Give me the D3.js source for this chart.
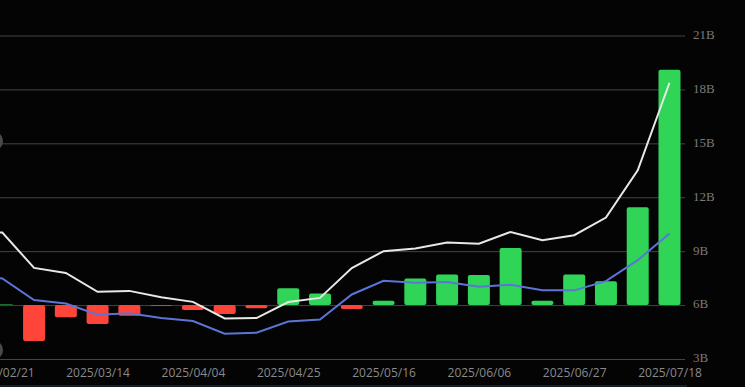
<!DOCTYPE html>
<html>
<head>
<meta charset="utf-8">
<script src="https://cdn.jsdelivr.net/npm/d3@7"></script>
<style>
    html, body { margin: 0; padding: 0; background: #040404; overflow: hidden; }
    svg { display: block; }
</style>
</head>
<body>
<svg id="chart" width="745" height="387"></svg>
<script>
// weekly dates, the first sits off screen so the lines run in from the left edge
var dates = ["2025/02/14", "2025/02/21", "2025/02/28", "2025/03/07", "2025/03/14", "2025/03/21", "2025/03/28",
    "2025/04/04", "2025/04/11", "2025/04/18", "2025/04/25", "2025/05/02", "2025/05/09",
    "2025/05/16", "2025/05/23", "2025/05/30", "2025/06/06", "2025/06/13", "2025/06/20",
    "2025/06/27", "2025/07/04", "2025/07/11", "2025/07/18"];

// where the bar ends on the right axis, bars all hang off the 6B line
var barEnds = [6, 6.03, 4.0, 5.32, 4.95, 5.4, 5.96, 5.72, 5.5, 5.83, 6.93, 6.65, 5.78,
    6.24, 7.48, 7.7, 7.67, 9.17, 6.24, 7.7, 7.32, 11.44, 19.09];
var whiteLine = [10.1, 10.04, 8.07, 7.79, 6.74, 6.79, 6.44, 6.18, 5.26, 5.28, 6.17, 6.4, 8.06,
    9.0, 9.15, 9.48, 9.41, 10.07, 9.61, 9.89, 10.87, 13.5, 18.37];
var blueLine = [7.6, 7.48, 6.28, 6.09, 5.46, 5.54, 5.28, 5.11, 4.41, 4.46, 5.09, 5.2, 6.59,
    7.35, 7.24, 7.28, 7.02, 7.13, 6.82, 6.82, 7.33, 8.5, 9.98];

var yTicks = [3, 6, 9, 12, 15, 18, 21];
var xTickLabels = ["2025/02/21", "2025/03/14", "2025/04/04", "2025/04/25", "2025/05/16", "2025/06/06", "2025/06/27", "2025/07/18"];
var barBase = 6;

var svg = d3.select("#chart");

var x = d3.scalePoint().domain(dates).range([2.3 - 31.78, 669.5]);
var y = d3.scaleLinear().domain([3, 21]).range([359, 35.5]);

var barWidth = 22;
var gridRight = 685;

// bottom strip of the screenshot
svg.append("rect")
    .attr("x", 0).attr("y", 385)
    .attr("width", gridRight + 2).attr("height", 2)
    .attr("fill", "#10202e");

// grid + right axis
var yAxis = d3.axisRight(y)
    .tickValues(yTicks)
    .tickSize(gridRight)
    .tickFormat(function (d) { return d + "B"; });

var yGroup = svg.append("g").attr("class", "y-axis").call(yAxis);
yGroup.select(".domain").remove();
yGroup.selectAll("line").attr("stroke", "#444444").attr("stroke-width", 1);
yGroup.selectAll("text")
    .attr("x", gridRight + 8)
    .attr("dy", "0.22em")
    .attr("fill", "#7a7a7a")
    .attr("font-family", "'Liberation Serif', serif")
    .attr("font-size", 13);

// bottom labels
var xAxis = d3.axisBottom(x).tickValues(xTickLabels).tickSize(0);
var xGroup = svg.append("g").attr("class", "x-axis").attr("transform", "translate(0,367)").call(xAxis);
xGroup.select(".domain").remove();
xGroup.selectAll("text")
    .attr("y", 0)
    .attr("dy", "0.8em")
    .attr("fill", "#8a8a8a")
    .attr("font-family", "'Open Sans', sans-serif")
    .attr("font-size", 12);

// bars
svg.append("g").selectAll("rect")
    .data(barEnds)
    .enter().append("rect")
        .attr("x", function (d, i) { return x(dates[i]) - barWidth / 2; })
        .attr("y", function (d) { return Math.min(y(d), y(barBase)); })
        .attr("width", barWidth)
        .attr("height", function (d) { return Math.abs(y(d) - y(barBase)); })
        .attr("rx", 2)
        .attr("fill", function (d) { return d >= barBase ? "#30d558" : "#ff453a"; });

// lines
var line = d3.line()
    .x(function (d, i) { return x(dates[i]); })
    .y(function (d) { return y(d); });

svg.append("path")
    .attr("d", line(whiteLine))
    .attr("fill", "none")
    .attr("stroke", "#e8e8e4")
    .attr("stroke-width", 2);

svg.append("path")
    .attr("d", line(blueLine))
    .attr("fill", "none")
    .attr("stroke", "#5b74d6")
    .attr("stroke-width", 2);

// bits of the round watermark sticking in at the left edge
svg.append("g").selectAll("circle")
    .data([141, 350])
    .enter().append("circle")
        .attr("cx", -7)
        .attr("cy", function (d) { return d; })
        .attr("r", 10)
        .attr("fill", "#4a4a4a");
</script>
</body>
</html>
